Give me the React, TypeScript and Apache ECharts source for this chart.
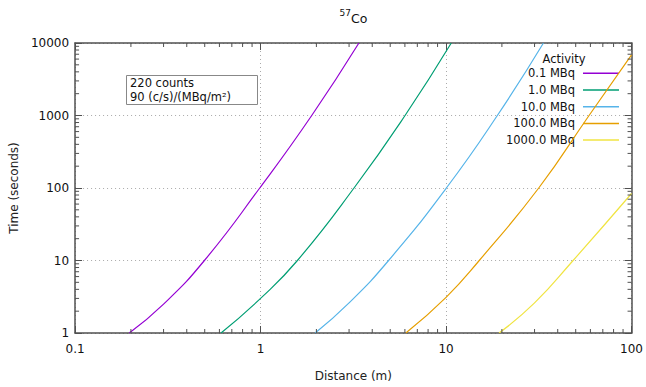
import React, { useEffect, useRef } from "react";
import * as echarts from "echarts";

// Tick values and labels
const X_TICKS = [0.1, 1, 10, 100];
const X_TICK_LABELS = ["0.1", "1", "10", "100"];
const Y_TICKS = [1, 10, 100, 1000, 10000];
const Y_TICK_LABELS = ["1", "10", "100", "1000", "10000"];
const X_MINOR = [0.2, 0.3, 0.4, 0.5, 0.6, 0.7, 0.8, 0.9, 2, 3, 4, 5, 6, 7, 8, 9, 20, 30, 40, 50, 60, 70, 80, 90];
const Y_MINOR = [2, 3, 4, 5, 6, 7, 8, 9, 20, 30, 40, 50, 60, 70, 80, 90, 200, 300, 400, 500, 600, 700, 800, 900, 2000, 3000, 4000, 5000, 6000, 7000, 8000, 9000];

// Series (distance m, time s)
const SERIES_NAMES = ["0.1 MBq", "1.0 MBq", "10.0 MBq", "100.0 MBq", "1000.0 MBq"];
const SERIES_COLORS = ["#9400d3", "#009e73", "#56b4e9", "#e69f00", "#f0e442"];

const act01X = [0.196, 0.3, 0.498, 0.99, 1.887, 3.39];
const act01Y = [1, 2.5, 10, 100, 1000, 10000];
const act1X = [0.612, 1.0, 1.58, 3.19, 6.01, 10.67];
const act1Y = [1, 3.0, 10, 100, 1000, 10000];
const act10X = [1.97, 3.0, 4.9, 10.04, 18.9, 33.5];
const act10Y = [1, 2.6, 10, 100, 1000, 10000];
const act100X = [6.07, 10.0, 15.1, 31.6, 59.0, 100];
const act100Y = [1, 3.1, 10, 100, 1000, 6850];
const act1000X = [19.3, 30.0, 48.4, 100];
const act1000Y = [1, 2.6, 10, 84];

const SERIES_X = [act01X, act1X, act10X, act100X, act1000X];
const SERIES_Y = [act01Y, act1Y, act10Y, act100Y, act1000Y];

const FONT = "DejaVu Sans";
const AXIS_COLOR = "#505050";

function fmt(ticks: number[], labels: string[]) {
  return (v: number) => {
    const i = ticks.findIndex((t) => Math.abs(Math.log10(t) - Math.log10(v)) < 1e-6);
    return i >= 0 ? labels[i] : "";
  };
}

export default function App() {
  const ref = useRef<HTMLDivElement>(null);
  useEffect(() => {
    if (!ref.current) return;
    const chart = echarts.init(ref.current, undefined, { renderer: "svg" });

    const lineSeries = SERIES_NAMES.map((name, i) => ({
      type: "line",
      name,
      data: SERIES_X[i].map((x, j) => [x, SERIES_Y[i][j]]),
      showSymbol: false,
      smooth: 0.5,
      lineStyle: { color: SERIES_COLORS[i], width: 1.2 },
      itemStyle: { color: SERIES_COLORS[i] },
      xAxisIndex: 0,
      yAxisIndex: 0,
      z: 3,
    }));

    const tickStyle = { stroke: AXIS_COLOR, lineWidth: 1 };
    const minorX = {
      type: "custom",
      silent: true,
      clip: false,
      xAxisIndex: 0,
      yAxisIndex: 0,
      z: 6,
      data: X_MINOR.map((v) => [v, 1]),
      renderItem: (params: any, api: any) => {
        const cs = params.coordSys;
        const px = api.coord([api.value(0), 1])[0];
        const b = cs.y + cs.height;
        return {
          type: "group",
          children: [
            { type: "line", shape: { x1: px, y1: b, x2: px, y2: b - 4 }, style: tickStyle },
            { type: "line", shape: { x1: px, y1: cs.y, x2: px, y2: cs.y + 4 }, style: tickStyle },
          ],
        };
      },
    };
    const minorY = {
      type: "custom",
      silent: true,
      clip: false,
      xAxisIndex: 0,
      yAxisIndex: 0,
      z: 6,
      data: Y_MINOR.map((v) => [1, v]),
      renderItem: (params: any, api: any) => {
        const cs = params.coordSys;
        const py = api.coord([1, api.value(1)])[1];
        const r = cs.x + cs.width;
        return {
          type: "group",
          children: [
            { type: "line", shape: { x1: cs.x, y1: py, x2: cs.x + 4, y2: py }, style: tickStyle },
            { type: "line", shape: { x1: r, y1: py, x2: r - 4, y2: py }, style: tickStyle },
          ],
        };
      },
    };

    const legendX = 575;
    const legendY0 = 73.3;
    const legendDy = 16.7;
    const legendGraphics: any[] = [
      {
        type: "text",
        x: 564,
        y: 58.7,
        style: { text: "Activity", font: `11.5px "${FONT}"`, fill: "#111", align: "center", verticalAlign: "middle" },
      },
    ];
    SERIES_NAMES.forEach((name, i) => {
      const y = legendY0 + i * legendDy;
      legendGraphics.push({
        type: "text",
        x: legendX,
        y,
        style: { text: name, font: `11.5px "${FONT}"`, fill: "#111", align: "right", verticalAlign: "middle" },
      });
      legendGraphics.push({
        type: "line",
        shape: { x1: 583, y1: y, x2: 619, y2: y },
        style: { stroke: SERIES_COLORS[i], lineWidth: 1.5 },
      });
    });

    const option: any = {
      animation: false,
      grid: { left: 72, right: 13, top: 43, bottom: 50.5, containLabel: false },
      xAxis: [
        {
          type: "log",
          logBase: 10,
          min: 0.1,
          max: 100,
          position: "bottom",
          name: "Distance (m)",
          nameLocation: "middle",
          nameGap: 37,
          nameTextStyle: { fontFamily: FONT, fontSize: 12, color: "#222" },
          axisLine: { show: true, lineStyle: { color: AXIS_COLOR, width: 1.5 } },
          axisTick: { show: true, inside: true, length: 7, lineStyle: { color: AXIS_COLOR } },
          axisLabel: { formatter: fmt(X_TICKS, X_TICK_LABELS), fontFamily: FONT, fontSize: 12, color: "#111", margin: 10 },
          splitLine: { show: true, lineStyle: { color: "#aaaaaa", type: [1, 3], width: 1 } },
          minorTick: { show: false },
        },
        {
          type: "log",
          logBase: 10,
          min: 0.1,
          max: 100,
          position: "top",
          axisLine: { show: true, lineStyle: { color: AXIS_COLOR, width: 1.5 } },
          axisTick: { show: true, inside: true, length: 7, lineStyle: { color: AXIS_COLOR } },
          axisLabel: { show: false },
          splitLine: { show: false },
        },
      ],
      yAxis: [
        {
          type: "log",
          logBase: 10,
          min: 1,
          max: 10000,
          position: "left",
          name: "Time (seconds)",
          nameLocation: "middle",
          nameRotate: 90,
          nameGap: 46,
          nameTextStyle: { fontFamily: FONT, fontSize: 12, color: "#222" },
          axisLine: { show: true, lineStyle: { color: AXIS_COLOR, width: 1.5 } },
          axisTick: { show: true, inside: true, length: 7, lineStyle: { color: AXIS_COLOR } },
          axisLabel: { formatter: fmt(Y_TICKS, Y_TICK_LABELS), fontFamily: FONT, fontSize: 12, color: "#111", margin: 6 },
          splitLine: { show: true, lineStyle: { color: "#aaaaaa", type: [1, 3], width: 1 } },
        },
        {
          type: "log",
          logBase: 10,
          min: 1,
          max: 10000,
          position: "right",
          axisLine: { show: true, lineStyle: { color: AXIS_COLOR, width: 1.5 } },
          axisTick: { show: true, inside: true, length: 7, lineStyle: { color: AXIS_COLOR } },
          axisLabel: { show: false },
          splitLine: { show: false },
        },
      ],
      legend: { show: false },
      graphic: [
        {
          type: "text",
          x: 351,
          y: 13,
          style: { text: "57", font: `9px "${FONT}"`, fill: "#111", align: "right", verticalAlign: "middle" },
        },
        {
          type: "text",
          x: 351,
          y: 18.5,
          style: { text: "Co", font: `12.5px "${FONT}"`, fill: "#111", align: "left", verticalAlign: "middle" },
        },
        {
          type: "rect",
          shape: { x: 126.5, y: 75.5, width: 131, height: 29 },
          style: { fill: "#ffffff", stroke: "#888888", lineWidth: 1 },
          z: 10,
        },
        {
          type: "text",
          x: 130,
          y: 82.5,
          z: 11,
          style: { text: "220 counts", font: `11.5px "${FONT}"`, fill: "#111", align: "left", verticalAlign: "middle" },
        },
        {
          type: "text",
          x: 130,
          y: 97,
          z: 11,
          style: { text: "90 (c/s)/(MBq/m²)", font: `11.5px "${FONT}"`, fill: "#111", align: "left", verticalAlign: "middle" },
        },
        ...legendGraphics,
      ],
      series: [...lineSeries, minorX, minorY],
    };
    chart.setOption(option);
    return () => chart.dispose();
  }, []);

  return (
    <div
      ref={ref}
      style={{ position: "fixed", left: 0, top: 0, width: 646, height: 387, background: "#fff" }}
    />
  );
}
